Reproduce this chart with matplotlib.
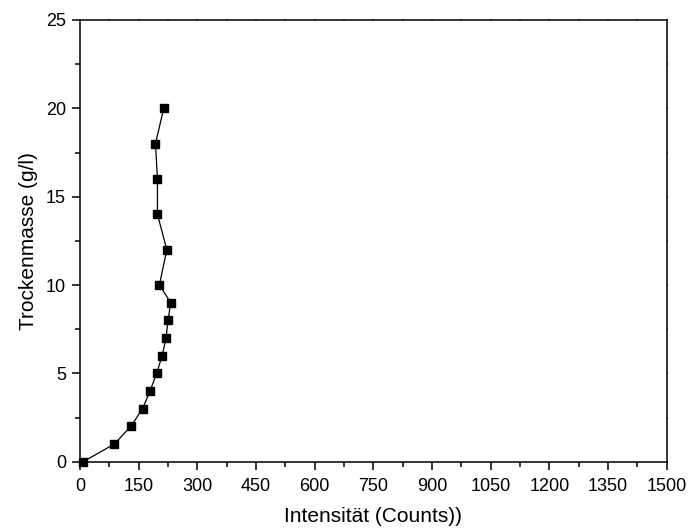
import matplotlib
matplotlib.use("Agg")
import matplotlib.pyplot as plt
from matplotlib.ticker import MultipleLocator

plt.rcParams['font.family'] = ['Liberation Sans', 'DejaVu Sans']

intensity = [8, 88, 130, 160, 179, 196, 210, 220, 225, 232, 203, 222, 198, 198, 193, 214]
dry_mass = [0, 1, 2, 3, 4, 5, 6, 7, 8, 9, 10, 12, 14, 16, 18, 20]
x_ticks = [0, 150, 300, 450, 600, 750, 900, 1050, 1200, 1350, 1500]
y_ticks = [0, 5, 10, 15, 20, 25]

fig = plt.figure(figsize=(6.88, 5.31), dpi=100)
ax = fig.add_axes([80/688, 1 - 461.7/531, (666.7-80)/688, (461.7-20)/531])

ax.plot(intensity, dry_mass, color='black', linewidth=0.9, marker='s',
        markersize=6, markerfacecolor='black', markeredgecolor='black', clip_on=False, zorder=3)

ax.set_xlim(0, 1500)
ax.set_ylim(0, 25)
ax.set_xticks(x_ticks)
ax.set_yticks(y_ticks)
ax.xaxis.set_minor_locator(MultipleLocator(75))
ax.yaxis.set_minor_locator(MultipleLocator(2.5))

for s in ax.spines.values():
    s.set_linewidth(1.1)

ax.tick_params(axis='both', which='major', direction='out', length=6, width=1.1, labelsize=13,
               top=True, right=True, labeltop=False, labelright=False)
ax.tick_params(axis='x', which='major', pad=6)
ax.tick_params(axis='y', which='major', pad=4)
ax.tick_params(axis='both', which='minor', direction='out', length=3.5, width=1.1,
               top=True, right=True)

ax.set_xlabel('Intensität (Counts))', fontsize=15, labelpad=8.5)
ax.set_ylabel('Trockenmasse (g/l)', fontsize=15, labelpad=6)

# top/right ticks are tiny
for line in ax.xaxis.get_majorticklines()[1::2] + ax.xaxis.get_minorticklines()[1::2]:
    line.set_markersize(1)
for line in ax.yaxis.get_majorticklines()[1::2] + ax.yaxis.get_minorticklines()[1::2]:
    line.set_markersize(1)

fig.savefig('out.png', dpi=100)
